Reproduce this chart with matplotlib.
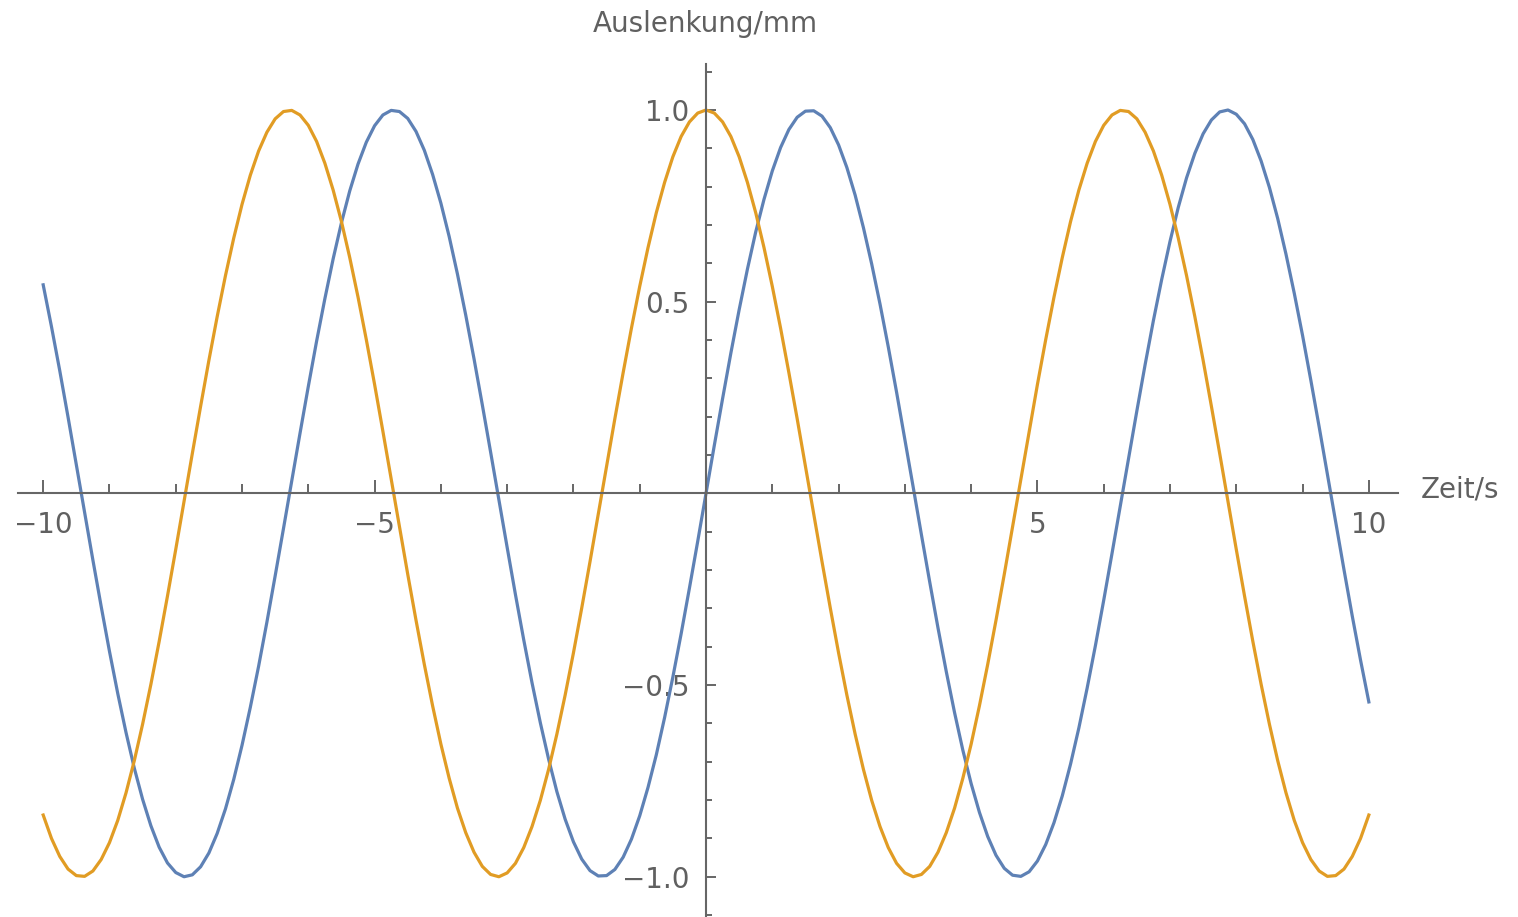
import numpy as np
import matplotlib
matplotlib.use('Agg')
import matplotlib.pyplot as plt
from matplotlib.ticker import MultipleLocator, FixedLocator

# time axis, sampled every 0.125 s from -10 to 10
zeit = np.arange(-10, 10.001, 0.125)

# blue curve, one row per second
blau = [0.544, 0.435, 0.320, 0.199, 0.075, -0.050, -0.174, -0.295,
        -0.412, -0.522, -0.624, -0.717, -0.798, -0.867, -0.923, -0.964,
        -0.989, -1.000, -0.995, -0.974, -0.938, -0.887, -0.823, -0.746,
        -0.657, -0.558, -0.451, -0.336, -0.215, -0.092, 0.033, 0.157,
        0.279, 0.397, 0.508, 0.612, 0.706, 0.789, 0.859, 0.916,
        0.959, 0.987, 0.999, 0.996, 0.978, 0.944, 0.895, 0.832,
        0.757, 0.670, 0.572, 0.465, 0.351, 0.231, 0.108, -0.017,
        -0.141, -0.264, -0.382, -0.494, -0.598, -0.693, -0.778, -0.850,
        -0.909, -0.954, -0.984, -0.998, -0.997, -0.981, -0.949, -0.902,
        -0.841, -0.767, -0.682, -0.585, -0.479, -0.366, -0.247, -0.125,
        0.0, 0.125, 0.247, 0.366, 0.479, 0.585, 0.682, 0.767,
        0.841, 0.902, 0.949, 0.981, 0.997, 0.998, 0.984, 0.954,
        0.909, 0.850, 0.778, 0.693, 0.598, 0.494, 0.382, 0.264,
        0.141, 0.017, -0.108, -0.231, -0.351, -0.465, -0.572, -0.670,
        -0.757, -0.832, -0.895, -0.944, -0.978, -0.996, -0.999, -0.987,
        -0.959, -0.916, -0.859, -0.789, -0.706, -0.612, -0.508, -0.397,
        -0.279, -0.157, -0.033, 0.092, 0.215, 0.336, 0.451, 0.558,
        0.657, 0.746, 0.823, 0.887, 0.938, 0.974, 0.995, 1.000,
        0.989, 0.964, 0.923, 0.867, 0.798, 0.717, 0.624, 0.522,
        0.412, 0.295, 0.174, 0.050, -0.075, -0.199, -0.320, -0.435,
        -0.544]

# orange curve
orange = [-0.839, -0.900, -0.947, -0.980, -0.997, -0.999, -0.985, -0.955,
          -0.911, -0.853, -0.781, -0.697, -0.602, -0.498, -0.386, -0.268,
          -0.146, -0.021, 0.104, 0.227, 0.347, 0.461, 0.568, 0.666,
          0.754, 0.830, 0.893, 0.942, 0.977, 0.996, 0.999, 0.987,
          0.960, 0.918, 0.861, 0.791, 0.709, 0.615, 0.512, 0.401,
          0.284, 0.162, 0.038, -0.087, -0.211, -0.331, -0.446, -0.554,
          -0.654, -0.743, -0.821, -0.885, -0.936, -0.973, -0.994, -1.000,
          -0.990, -0.965, -0.924, -0.869, -0.801, -0.720, -0.628, -0.526,
          -0.416, -0.299, -0.178, -0.054, 0.071, 0.195, 0.315, 0.431,
          0.540, 0.641, 0.732, 0.811, 0.878, 0.931, 0.969, 0.992,
          1.000, 0.992, 0.969, 0.931, 0.878, 0.811, 0.732, 0.641,
          0.540, 0.431, 0.315, 0.195, 0.071, -0.054, -0.178, -0.299,
          -0.416, -0.526, -0.628, -0.720, -0.801, -0.869, -0.924, -0.965,
          -0.990, -1.000, -0.994, -0.973, -0.936, -0.885, -0.821, -0.743,
          -0.654, -0.554, -0.446, -0.331, -0.211, -0.087, 0.038, 0.162,
          0.284, 0.401, 0.512, 0.615, 0.709, 0.791, 0.861, 0.918,
          0.960, 0.987, 0.999, 0.996, 0.977, 0.942, 0.893, 0.830,
          0.754, 0.666, 0.568, 0.461, 0.347, 0.227, 0.104, -0.021,
          -0.146, -0.268, -0.386, -0.498, -0.602, -0.697, -0.781, -0.853,
          -0.911, -0.955, -0.985, -0.999, -0.997, -0.980, -0.947, -0.900,
          -0.839]

x_ticks = [-10, -5, 5, 10]
x_labels = ['\u221210', '\u22125', '5', '10']
y_ticks = [-1.0, -0.5, 0.5, 1.0]
y_labels = ['\u22121.0', '\u22120.5', '0.5', '1.0']

achse = '#666666'
text_farbe = '#606060'

fig = plt.figure(figsize=(15.18, 9.17), dpi=100)
ax = fig.add_axes([18/1518, 0.0, 1380/1518, (917-64)/917])

ax.plot(zeit, blau, color='#5E81B5', lw=2.3)
ax.plot(zeit, orange, color='#E19C24', lw=2.3)

ax.set_xlim(-10.38, 10.44)
ax.set_ylim(-1.105, 1.12)

ax.spines['left'].set_position('zero')
ax.spines['bottom'].set_position('zero')
ax.spines['right'].set_visible(False)
ax.spines['top'].set_visible(False)
for s in ['left', 'bottom']:
    ax.spines[s].set_color(achse)
    ax.spines[s].set_linewidth(1.5)

ax.xaxis.set_major_locator(FixedLocator(x_ticks))
ax.set_xticklabels(x_labels)
ax.xaxis.set_minor_locator(MultipleLocator(1))
ax.yaxis.set_major_locator(FixedLocator(y_ticks))
ax.set_yticklabels(y_labels)
ax.yaxis.set_minor_locator(MultipleLocator(0.1))

ax.tick_params(axis='x', which='major', direction='in', length=9.5, width=1.4,
               color=achse, labelcolor=text_farbe, labelsize=20, pad=13)
ax.tick_params(axis='x', which='minor', direction='in', length=6.5, width=1.4, color=achse)
ax.tick_params(axis='y', which='major', direction='in', length=7.5, width=1.4,
               color=achse, labelcolor=text_farbe, labelsize=20, pad=12)
ax.tick_params(axis='y', which='minor', direction='in', length=4.5, width=1.4, color=achse)

fig.text(705/1518, 1 - 24/917, 'Auslenkung/mm', ha='center', va='center',
         fontsize=20, color=text_farbe)
fig.text(1421/1518, 1 - 490/917, 'Zeit/s', ha='left', va='center',
         fontsize=20, color=text_farbe)

fig.savefig('out.png', dpi=100)
